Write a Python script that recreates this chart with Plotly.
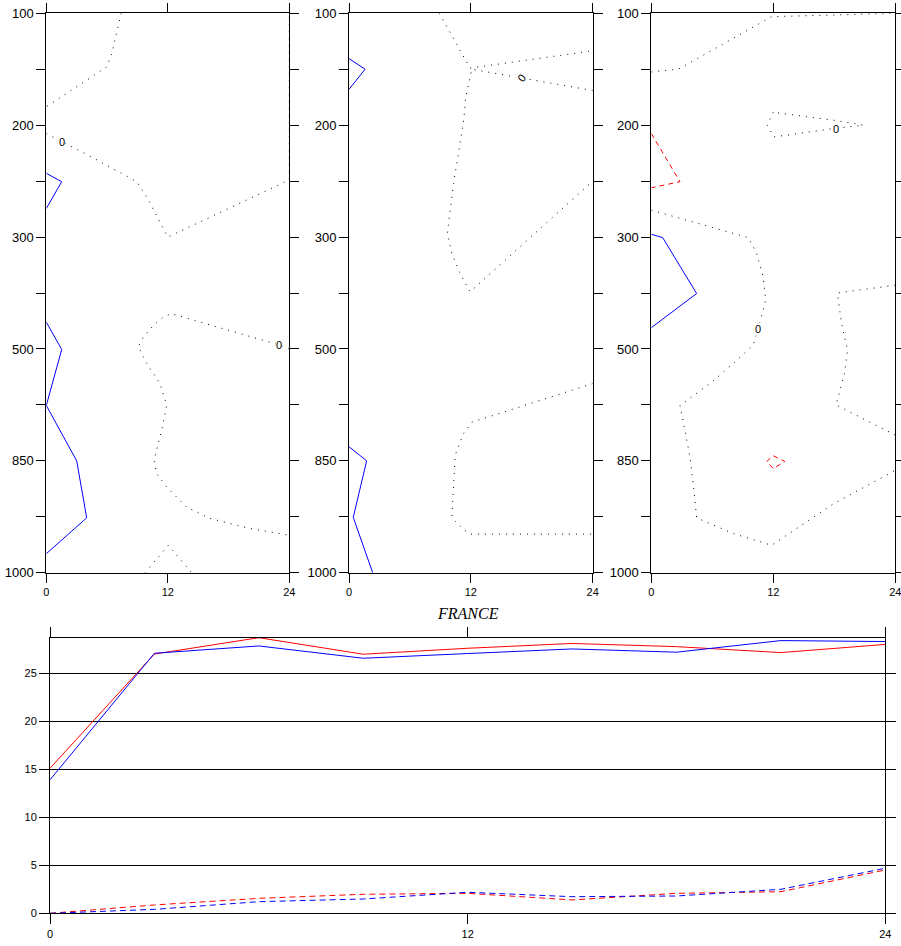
import plotly.graph_objects as go

# ---------------- data ----------------
LEVELS = [100, 150, 200, 250, 300, 400, 500, 700, 850, 925, 1000]
LEVEL_LABELS = ["100", "", "200", "", "300", "", "500", "", "850", "", "1000"]
LEVEL_INDEX = list(range(len(LEVELS)))
HOUR_TICKS = [0, 12, 24]

# Contour lines of the three upper panels: hour (0-24) and level position (index into LEVELS)
# Panel 1
P1_ZERO_A_H = [7.4, 6.95, 6.46, 5.96, 0.0]
P1_ZERO_A_L = [0.0, 0.33, 0.72, 0.96, 1.67]
P1_ZERO_B_H = [0.0, 4.48, 8.93, 9.92, 12.0, 23.7, 24.0, 24.0]
P1_ZERO_B_L = [2.15, 2.57, 3.01, 3.28, 4.0, 3.0, 2.98, 0.0]
P1_ZERO_C_H = [24.0, 23.0, 12.38, 11.56, 10.57, 9.58, 9.09, 9.92, 11.23, 11.89, 11.4, 10.64,
               10.9, 11.89, 13.87, 16.17, 20.1, 24.0]
P1_ZERO_C_L = [6.0, 5.93, 5.37, 5.43, 5.58, 5.79, 5.96, 6.26, 6.62, 7.0, 7.45, 7.99,
               8.23, 8.47, 8.83, 9.03, 9.21, 9.33]
P1_ZERO_D_H = [9.75, 12.05, 14.36]
P1_ZERO_D_L = [10.0, 9.51, 10.0]
P1_POS_A_H = [0.0, 1.52, 0.0]
P1_POS_A_L = [2.86, 3.01, 3.49]
P1_POS_B_H = [0.0, 1.52, 0.0, 3.0, 3.99, 0.0]
P1_POS_B_L = [5.52, 6.01, 7.01, 8.0, 9.02, 9.66]

# Panel 2
P2_POS_A_H = [0.0, 1.58, 0.0]
P2_POS_A_L = [0.81, 1.0, 1.36]
P2_POS_B_H = [0.0, 1.74, 0.42, 2.33]
P2_POS_B_L = [7.75, 8.0, 9.01, 10.0]
P2_ZERO_A_H = [8.9, 11.92, 24.0]
P2_ZERO_A_L = [0.0, 0.98, 0.67]
P2_ZERO_B_H = [24.0, 17.0, 12.1, 11.5, 11.3, 10.78, 10.3, 9.88, 9.69, 10.12, 10.94, 11.92, 23.9, 24.0]
P2_ZERO_B_L = [1.38, 1.16, 1.0, 1.49, 1.91, 2.5, 3.04, 3.64, 3.94, 4.29, 4.65, 4.98, 3.01, 3.0]
P2_ZERO_C_H = [24.0, 12.09, 11.28, 10.45, 10.28, 10.13, 10.35, 11.3, 11.95, 24.0]
P2_ZERO_C_L = [6.62, 7.31, 7.51, 7.9, 8.53, 9.0, 9.06, 9.23, 9.31, 9.31]

# Panel 3
P3_ZERO_A_H = [0.0, 0.36, 2.66, 11.84, 24.0]
P3_ZERO_A_L = [1.05, 1.04, 1.0, 0.06, 0.0]
P3_ZERO_B_H = [12.0, 11.4, 12.06, 17.9, 20.85, 17.9, 12.0]
P3_ZERO_B_L = [1.77, 2.0, 2.21, 2.06, 2.0, 1.91, 1.77]
P3_ZERO_C_H = [0.0, 9.54, 10.36, 11.0, 11.25, 11.0, 10.04, 8.06, 5.77, 2.82, 3.31, 3.8, 4.2,
               4.46, 8.06, 11.84, 17.9, 24.0]
P3_ZERO_C_L = [3.52, 4.01, 4.29, 4.71, 5.13, 5.31, 5.93, 6.26, 6.62, 7.01, 7.45, 7.93, 8.53,
               9.02, 9.3, 9.51, 8.77, 8.17]
P3_ZERO_D_H = [24.0, 18.3, 18.72, 19.3, 19.0, 18.17, 24.0]
P3_ZERO_D_L = [4.86, 5.0, 5.55, 6.02, 6.44, 7.0, 7.54]
P3_POS_A_H = [0.0, 1.12, 4.46, 0.0]
P3_POS_A_L = [3.95, 4.01, 5.01, 5.62]
P3_NEG_A_H = [0.0, 2.82, 0.0]
P3_NEG_A_L = [2.15, 3.01, 3.12]
P3_NEG_B_H = [12.0, 13.13, 12.0, 11.35, 12.0]
P3_NEG_B_L = [7.91, 8.01, 8.14, 8.01, 7.91]

# Contour labels: hour, level position, text angle
P1_LABELS_H = [1.52, 23.0]
P1_LABELS_L = [2.30, 5.93]
P1_LABELS_A = [0, 0]
P2_LABELS_H = [17.0]
P2_LABELS_L = [1.16]
P2_LABELS_A = [-50]
P3_LABELS_H = [18.2, 10.46]
P3_LABELS_L = [2.06, 5.64]
P3_LABELS_A = [0, 0]

# Lower panel time series (FRANCE)
HOURS = [0, 3, 6, 9, 12, 15, 18, 21, 24]
RED_SOLID = [15.1, 27.0, 28.7, 26.98, 27.6, 28.1, 27.77, 27.15, 28.0]
BLUE_SOLID = [13.9, 27.08, 27.84, 26.56, 27.05, 27.53, 27.19, 28.4, 28.3]
RED_DASHED = [0.0, 0.87, 1.56, 1.98, 2.08, 1.39, 2.08, 2.25, 4.51]
BLUE_DASHED = [0.0, 0.41, 1.21, 1.49, 2.19, 1.73, 1.8, 2.5, 4.69]
LOWER_YTICKS = [0, 5, 10, 15, 20, 25]
LOWER_YMAX = 28.7

# ---------------- figure ----------------
W, H = 901, 946
FONT = "Liberation Sans, Arial, sans-serif"

STYLE = {
    "zero": dict(color="black", width=1, dash="1px,6px"),
    "pos": dict(color="#0000ff", width=1, dash="solid"),
    "neg": dict(color="#ff0000", width=1, dash="5px,4px"),
}

PANELS = [
    [(P1_ZERO_A_H, P1_ZERO_A_L, "zero"), (P1_ZERO_B_H, P1_ZERO_B_L, "zero"),
     (P1_ZERO_C_H, P1_ZERO_C_L, "zero"), (P1_ZERO_D_H, P1_ZERO_D_L, "zero"),
     (P1_POS_A_H, P1_POS_A_L, "pos"), (P1_POS_B_H, P1_POS_B_L, "pos")],
    [(P2_POS_A_H, P2_POS_A_L, "pos"), (P2_POS_B_H, P2_POS_B_L, "pos"),
     (P2_ZERO_A_H, P2_ZERO_A_L, "zero"), (P2_ZERO_B_H, P2_ZERO_B_L, "zero"),
     (P2_ZERO_C_H, P2_ZERO_C_L, "zero")],
    [(P3_ZERO_A_H, P3_ZERO_A_L, "zero"), (P3_ZERO_B_H, P3_ZERO_B_L, "zero"),
     (P3_ZERO_C_H, P3_ZERO_C_L, "zero"), (P3_ZERO_D_H, P3_ZERO_D_L, "zero"),
     (P3_POS_A_H, P3_POS_A_L, "pos"), (P3_NEG_A_H, P3_NEG_A_L, "neg"),
     (P3_NEG_B_H, P3_NEG_B_L, "neg")],
]
PANEL_LABELS = [
    (P1_LABELS_H, P1_LABELS_L, P1_LABELS_A),
    (P2_LABELS_H, P2_LABELS_L, P2_LABELS_A),
    (P3_LABELS_H, P3_LABELS_L, P3_LABELS_A),
]

# pixel layout -> paper fractions
PANEL_X_PX = [(46.3, 289.3), (349.0, 592.7), (651.3, 895.3)]
PANEL_Y_PX = (13.3, 572.7)
LOWER_X_PX = (50.0, 885.3)
LOWER_Y_PX = (637.7, 913.3)


def xdom(a, b):
    return [a / W, b / W]


def ydom(top, bottom):
    return [1 - bottom / H, 1 - top / H]


fig = go.Figure()
annotations = []

for i, contours in enumerate(PANELS):
    n = "" if i == 0 else str(i + 1)
    for hx, ly, kind in contours:
        fig.add_trace(go.Scatter(x=hx, y=ly, mode="lines", line=STYLE[kind],
                                 xaxis="x" + n, yaxis="y" + n, hoverinfo="skip"))
    lh, ll, la = PANEL_LABELS[i]
    for hx, ly, ang in zip(lh, ll, la):
        annotations.append(dict(x=hx, y=ly, xref="x" + n, yref="y" + n, text="0",
                                showarrow=False, textangle=ang, bgcolor="white",
                                borderpad=0, font=dict(family=FONT, size=11, color="black")))

axis_common = dict(showline=True, linecolor="black", linewidth=1, mirror="allticks",
                   ticks="outside", ticklen=9, tickwidth=1, tickcolor="black",
                   showgrid=False, zeroline=False, automargin=False,
                   ticklabeloverflow="allow")

layout = dict(width=W, height=H,
              margin=dict(l=0, r=0, t=0, b=0, pad=0, autoexpand=False),
              paper_bgcolor="white", plot_bgcolor="white", showlegend=False,
              font=dict(family=FONT, color="black"))

for i in range(3):
    n = "" if i == 0 else str(i + 1)
    layout["xaxis" + n] = dict(domain=xdom(*PANEL_X_PX[i]), range=[0, 24], tickvals=HOUR_TICKS,
                               ticktext=[str(t) for t in HOUR_TICKS], anchor="y" + n,
                               tickfont=dict(size=11), **axis_common)
    layout["yaxis" + n] = dict(domain=ydom(*PANEL_Y_PX), range=[len(LEVELS) - 1, 0],
                               tickvals=LEVEL_INDEX, ticktext=LEVEL_LABELS, anchor="x" + n,
                               tickfont=dict(size=13), **axis_common)

# lower panel
for ys, color, dash in [(RED_SOLID, "#ff0000", "solid"), (BLUE_SOLID, "#0000ff", "solid"),
                        (RED_DASHED, "#ff0000", "6px,4px"), (BLUE_DASHED, "#0000ff", "6px,4px")]:
    fig.add_trace(go.Scatter(x=HOURS, y=ys, mode="lines", line=dict(color=color, width=1, dash=dash),
                             xaxis="x4", yaxis="y4", hoverinfo="skip"))

lower_common = dict(axis_common)
lower_common["ticklen"] = 10
layout["xaxis4"] = dict(domain=xdom(*LOWER_X_PX), range=[0, 24], tickvals=HOUR_TICKS,
                        ticktext=[str(t) for t in HOUR_TICKS], anchor="y4",
                        tickfont=dict(size=11), **lower_common)
lower_y = dict(lower_common)
lower_y.update(showgrid=True, gridcolor="black", gridwidth=1)
layout["yaxis4"] = dict(domain=ydom(*LOWER_Y_PX), range=[0, LOWER_YMAX], tickvals=LOWER_YTICKS,
                        ticktext=[str(t) for t in LOWER_YTICKS], anchor="x4",
                        tickfont=dict(size=11), **lower_y)

annotations.append(dict(x=(LOWER_X_PX[0] + LOWER_X_PX[1]) / 2 / W, y=1 - 613 / H,
                        xref="paper", yref="paper", text="<i>FRANCE</i>", showarrow=False,
                        xanchor="center", yanchor="middle",
                        font=dict(family="Liberation Serif, Times New Roman, serif", size=16,
                                  color="black")))
layout["annotations"] = annotations

fig.update_layout(**layout)
fig.write_html("out.html")
